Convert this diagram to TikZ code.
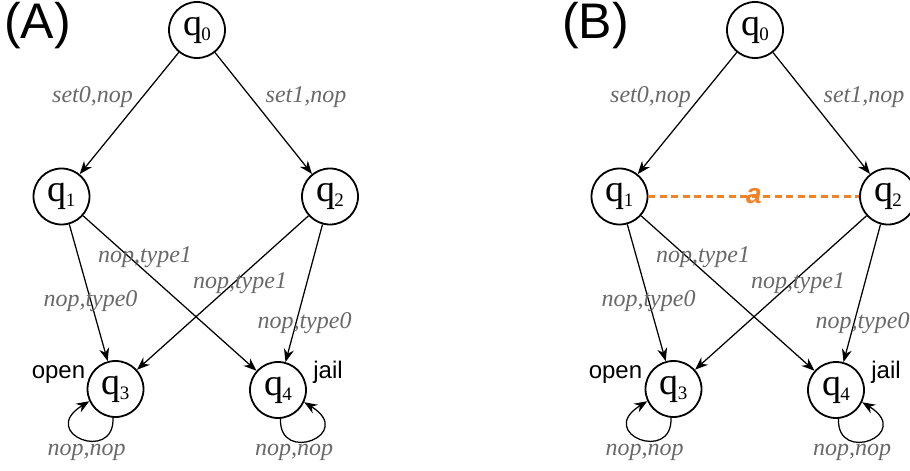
\documentclass[tikz,border=0pt]{standalone}
\usepackage{fontspec}
\setmainfont{Liberation Serif}
\setsansfont{Liberation Sans}
\usetikzlibrary{arrows.meta}
\definecolor{lblgray}{RGB}{105,105,105}
\definecolor{aorange}{RGB}{242,130,36}
\newcommand{\qst}[1]{{\fontsize{38}{38}\selectfont q}\kern-1pt\raisebox{-5pt}{\fontsize{19}{19}\selectfont #1}}
\begin{document}
\begin{tikzpicture}[x=1pt,y=-1pt,
  state/.style={circle,draw,line width=1.8pt,minimum size=56pt,inner sep=0pt},
  edge/.style={line width=1.25pt,-{Stealth[length=13pt,width=10pt]}},
  lbl/.style={text=lblgray,font=\fontsize{24}{24}\selectfont\itshape,anchor=base,inner sep=0pt},
  tag/.style={font=\sffamily\fontsize{24}{24}\selectfont,anchor=base,inner sep=0pt},
  panel/.style={font=\sffamily\fontsize{50}{50}\selectfont,anchor=base west,inner sep=0pt},
  alink/.style={draw=aorange,line width=3pt,dash pattern=on 7pt off 4.5pt},
  alabel/.style={text=aorange,font=\sffamily\bfseries\itshape\fontsize{28}{28}\selectfont,anchor=base,inner sep=0pt}
]
\useasboundingbox (0,0) rectangle (910,471);

% ---------- Panel A ----------
\node[panel] (pA) at (4,38) {(A)};
\node[state] (a0) at (197,30) {\qst{0}};
\node[state] (a1) at (61.5,196.5) {\qst{1}};
\node[state] (a2) at (330,196.5) {\qst{2}};
\node[state] (a3) at (115.5,389) {\qst{3}};
\node[state] (a4) at (278,390) {\qst{4}};

\draw[edge] (a0) -- (a1);
\draw[edge] (a0) -- (a2);
\draw[edge] (a1) -- (a3);
\draw[edge] (a1) -- (a4);
\draw[edge] (a2) -- (a3);
\draw[edge] (a2) -- (a4);
\draw[edge] (a3.-95) .. controls +(2,46) and +(-52,32) .. (a3.205);
\draw[edge] (a4.-85) .. controls +(-2,46) and +(52,32) .. (a4.-25);

\node[lbl] (la01) at (92.5,102) {set0,nop};
\node[lbl] (la02) at (306,102) {set1,nop};
\node[lbl] (la14) at (145,262) {nop,type1};
\node[lbl] (la23) at (240,288) {nop,type1};
\node[lbl] (la13) at (90.5,306) {nop,type0};
\node[lbl] (la24) at (304.5,328) {nop,type0};
\node[lbl] (la33) at (86.5,455) {nop,nop};
\node[lbl] (la44) at (294,455) {nop,nop};
\node[tag] (lopenA) at (58.5,378) {open};
\node[tag] (ljailA) at (328,378) {jail};

% ---------- Panel B ----------
\node[panel] (pB) at (562,38) {(B)};
\node[state] (b0) at (755,30) {\qst{0}};
\node[state] (b1) at (619.5,196.5) {\qst{1}};
\node[state] (b2) at (888,196.5) {\qst{2}};
\node[state] (b3) at (673.5,389) {\qst{3}};
\node[state] (b4) at (836,390) {\qst{4}};

\draw[edge] (b0) -- (b1);
\draw[edge] (b0) -- (b2);
\draw[edge] (b1) -- (b3);
\draw[edge] (b1) -- (b4);
\draw[edge] (b2) -- (b3);
\draw[edge] (b2) -- (b4);
\draw[edge] (b3.-95) .. controls +(2,46) and +(-52,32) .. (b3.205);
\draw[edge] (b4.-85) .. controls +(-2,46) and +(52,32) .. (b4.-25);

\draw[alink] (b1) -- (b2);
\node[alabel] (ba) at (754,203) {a};

\node[lbl] (lb01) at (650.5,102) {set0,nop};
\node[lbl] (lb02) at (864,102) {set1,nop};
\node[lbl] (lb14) at (703,262) {nop,type1};
\node[lbl] (lb23) at (798,288) {nop,type1};
\node[lbl] (lb13) at (648.5,306) {nop,type0};
\node[lbl] (lb24) at (862.5,328) {nop,type0};
\node[lbl] (lb33) at (644.5,455) {nop,nop};
\node[lbl] (lb44) at (852,455) {nop,nop};
\node[tag] (lopenB) at (615.5,378) {open};
\node[tag] (ljailB) at (886,378) {jail};
\end{tikzpicture}
\end{document}
